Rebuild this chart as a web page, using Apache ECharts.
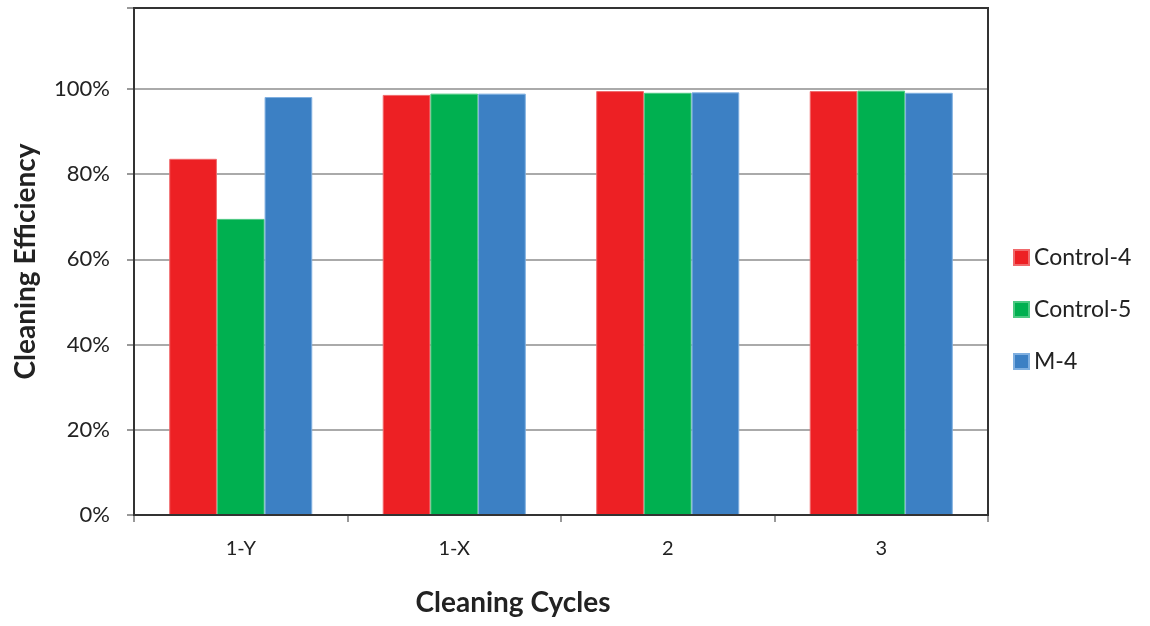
<!DOCTYPE html>
<html><head><meta charset="utf-8">
<script src="https://cdn.jsdelivr.net/npm/echarts@6/dist/echarts.min.js"></script>
<style>html,body{margin:0;padding:0;background:#fff}#c{width:1150px;height:626px}</style>
</head><body><div id="c"></div>
<script>
const categories = ['1-Y', '1-X', '2', '3'];
const control4 = [0.836, 0.986, 0.995, 0.995];
const control5 = [0.695, 0.989, 0.991, 0.996];
const m4 = [0.981, 0.989, 0.992, 0.991];
const seriesNames = ['Control-4', 'Control-5', 'M-4'];
const colors = ['#ED2024', '#00B050', '#3C80C4'];
const borders = ['#F06A6C', '#4CC982', '#7FAFE0'];
const font = 'Lato, "Open Sans", sans-serif';
const chart = echarts.init(document.getElementById('c'));
const data = [control4, control5, m4];
chart.setOption({
  animation: false,
  grid: { left: 134, right: 162, top: 8, bottom: 111, show: true, borderColor: '#333', borderWidth: 2, z: 5 },
  legend: {
    orient: 'vertical', left: 1013, top: 246, padding: 0, itemGap: 29, itemWidth: 15, itemHeight: 15,
    icon: 'rect', textStyle: { fontFamily: font, fontSize: 23, color: '#222' },
    data: seriesNames
  },
  xAxis: {
    type: 'category', data: categories,
    name: 'Cleaning Cycles', nameLocation: 'middle', nameGap: 74,
    nameTextStyle: { fontFamily: font, fontSize: 28, fontWeight: 'bold', color: '#222', padding: [0, 96, 0, 0] },
    axisLine: { lineStyle: { color: '#999', width: 2 } },
    axisTick: { show: true, length: 7, lineStyle: { color: '#999', width: 2 } },
    axisLabel: { fontFamily: font, fontSize: 20, color: '#222', margin: 24 }
  },
  yAxis: {
    type: 'value', min: 0, max: 1.19, interval: 0.2,
    name: 'Cleaning Efficiency', nameLocation: 'middle', nameGap: 94,
    nameTextStyle: { fontFamily: font, fontSize: 28, fontWeight: 'bold', color: '#222' },
    axisLine: { show: true, lineStyle: { color: '#999', width: 2 } },
    axisTick: { show: true, length: 7, lineStyle: { color: '#999', width: 2 } },
    splitLine: { lineStyle: { color: '#aaa', width: 2 } },
    axisLabel: { fontFamily: font, fontSize: 22, color: '#222', margin: 24,
      formatter: v => v > 1.001 ? '' : Math.round(v * 100) + '%' }
  },
  series: data.map((d, i) => ({
    name: seriesNames[i], type: 'bar', data: d,
    barGap: '0%', barCategoryGap: '33%',
    itemStyle: { color: colors[i], borderColor: borders[i], borderWidth: 1 }
  }))
});
</script></body></html>
